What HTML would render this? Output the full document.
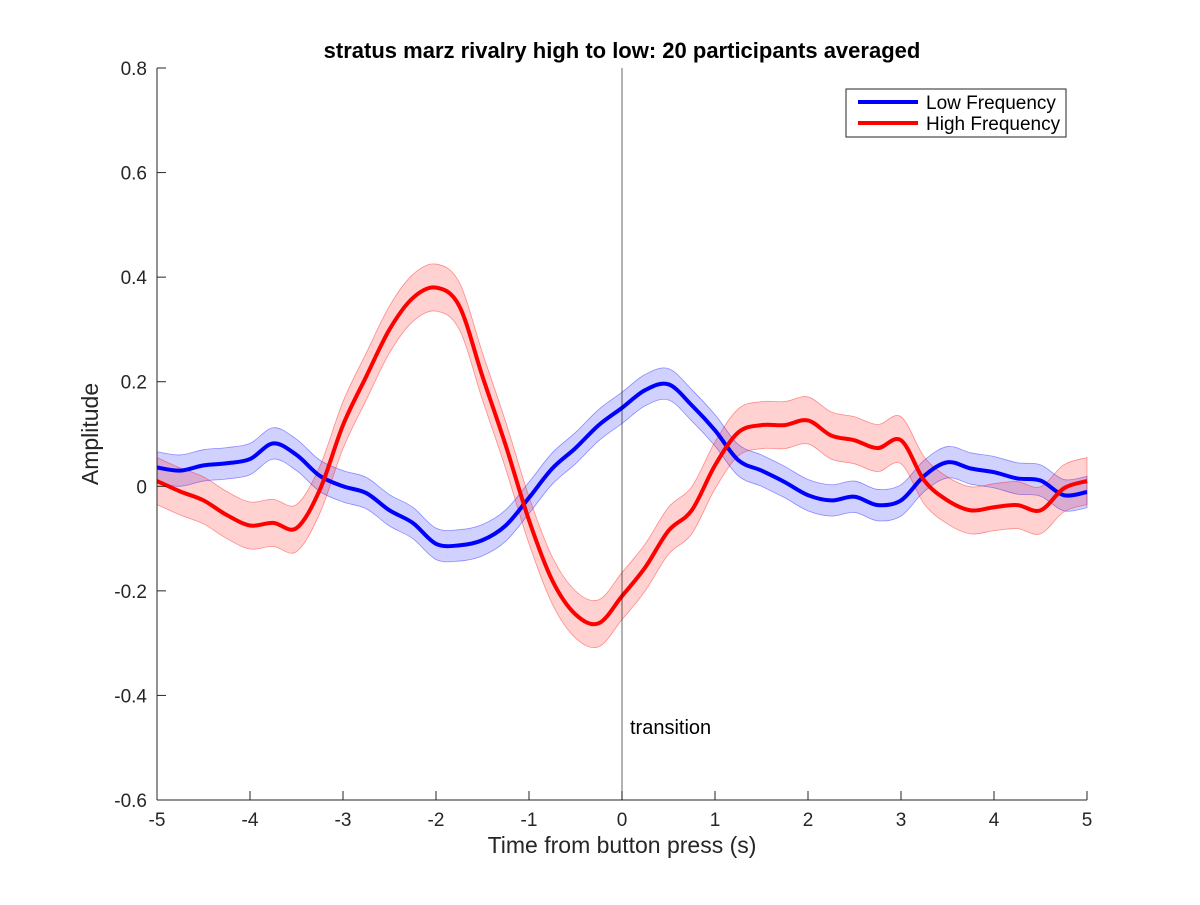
<!DOCTYPE html>
<html><head><meta charset="utf-8"><style>
body{margin:0;background:#fff;font-family:"Liberation Sans",sans-serif}
svg text{font-family:"Liberation Sans",sans-serif}
</style></head><body>
<svg id="chart" width="1200" height="900">
<rect width="1200" height="900" fill="#fff"/>
<g id="bands"></g><g id="lines"></g><g id="axes"></g>
<text x="630" y="734" font-size="20" fill="#000">transition</text>
<text x="622" y="58" text-anchor="middle" font-size="22" font-weight="bold">stratus marz rivalry high to low: 20 participants averaged</text>
<text x="622" y="853" text-anchor="middle" font-size="23" fill="#262626">Time from button press (s)</text>
<text transform="translate(98,434) rotate(-90)" text-anchor="middle" font-size="23" fill="#262626">Amplitude</text>
<g>
<rect x="846" y="89" width="220" height="48" fill="#fff" stroke="#262626" stroke-width="1"/>
<line x1="858" y1="102" x2="918" y2="102" stroke="#0000ff" stroke-width="4"/>
<text x="926" y="109" font-size="19">Low Frequency</text>
<line x1="858" y1="123" x2="918" y2="123" stroke="#ff0000" stroke-width="4"/>
<text x="926" y="130" font-size="19">High Frequency</text>
</g>
</svg>
<script>
const times=[-5,-4.75,-4.5,-4.25,-4,-3.75,-3.5,-3.25,-3,-2.75,-2.5,-2.25,-2,-1.75,-1.5,-1.25,-1,-0.75,-0.5,-0.25,0,0.25,0.5,0.75,1,1.25,1.5,1.75,2,2.25,2.5,2.75,3,3.25,3.5,3.75,4,4.25,4.5,4.75,5];
const lowFreq=[0.036,0.03,0.04,0.044,0.052,0.082,0.06,0.02,0,-0.013,-0.046,-0.07,-0.11,-0.113,-0.103,-0.075,-0.022,0.034,0.073,0.117,0.15,0.184,0.195,0.155,0.107,0.05,0.03,0.008,-0.017,-0.027,-0.02,-0.036,-0.027,0.02,0.046,0.034,0.027,0.015,0.011,-0.017,-0.011];
const highFreq=[0.01,-0.01,-0.027,-0.055,-0.075,-0.07,-0.08,-0.007,0.117,0.21,0.3,0.36,0.38,0.345,0.21,0.078,-0.065,-0.18,-0.245,-0.262,-0.21,-0.155,-0.085,-0.046,0.04,0.103,0.117,0.117,0.126,0.097,0.088,0.073,0.088,0.011,-0.027,-0.046,-0.04,-0.036,-0.046,-0.004,0.01];
const lowErr=[0.03];
const highErr=[0.045];
const xTicks=[-5,-4,-3,-2,-1,0,1,2,3,4,5];
const yTicks=[-0.6,-0.4,-0.2,0,0.2,0.4,0.6,0.8];
const X0=157,X1=1087,Y0=800,Y1=68;
const xs=v=>X0+(v+5)/10*(X1-X0);
const ys=v=>Y0-(v+0.6)/1.4*(Y0-Y1);
const NS='http://www.w3.org/2000/svg';
function mk(t,a,p){const e=document.createElementNS(NS,t);for(const k in a)e.setAttribute(k,a[k]);p.appendChild(e);return e;}
function smooth(pts){let d='M'+pts[0][0]+','+pts[0][1];for(let i=0;i<pts.length-1;i++){const p0=pts[i-1]||pts[i],p1=pts[i],p2=pts[i+1],p3=pts[i+2]||p2;d+=' C'+(p1[0]+(p2[0]-p0[0])/6)+','+(p1[1]+(p2[1]-p0[1])/6)+' '+(p2[0]-(p3[0]-p1[0])/6)+','+(p2[1]-(p3[1]-p1[1])/6)+' '+p2[0]+','+p2[1];}return d;}
function smoothCont(pts){return smooth(pts).replace(/^M/,'L');}
const bands=document.getElementById('bands'),lines=document.getElementById('lines'),axes=document.getElementById('axes');
function series(vals,err,col,fill,name){
 const up=times.map((t,i)=>[xs(t),ys(vals[i]+err[0])]);
 const dn=times.map((t,i)=>[xs(t),ys(vals[i]-err[0])]).reverse();
 const b=mk('path',{d:smooth(up)+' '+smoothCont(dn)+'Z',fill:fill,stroke:col,'stroke-opacity':0.4,'stroke-width':0.8},bands);
 
 
 const l=mk('path',{d:smooth(times.map((t,i)=>[xs(t),ys(vals[i])])),fill:'none',stroke:col,'stroke-width':4},lines);
 
 
}
series(lowFreq,lowErr,'#0000ff','rgba(0,0,255,0.18)','low-frequency');
series(highFreq,highErr,'#ff0000','rgba(255,0,0,0.18)','high-frequency');
let a=mk('line',{x1:X0,y1:Y0,x2:X1,y2:Y0,stroke:'#262626'},axes);
a=mk('line',{x1:X0,y1:Y0,x2:X0,y2:Y1,stroke:'#262626'},axes);
xTicks.forEach(v=>{mk('line',{x1:xs(v),y1:Y0,x2:xs(v),y2:Y0-9,stroke:'#262626'},axes);
 const t=mk('text',{x:xs(v),y:Y0+26,'text-anchor':'middle','font-size':19,fill:'#262626'},axes);t.textContent=v;
 });
yTicks.forEach(v=>{mk('line',{x1:X0,y1:ys(v),x2:X0+9,y2:ys(v),stroke:'#262626'},axes);
 const t=mk('text',{x:X0-10,y:ys(v)+7,'text-anchor':'end','font-size':19,fill:'#262626'},axes);t.textContent=Math.abs(v)<1e-9?'0':v.toFixed(1);
 });
let v=mk('line',{x1:xs(0),y1:Y1,x2:xs(0),y2:Y0,stroke:'#000','stroke-width':0.6},axes);
</script>
</body></html>
